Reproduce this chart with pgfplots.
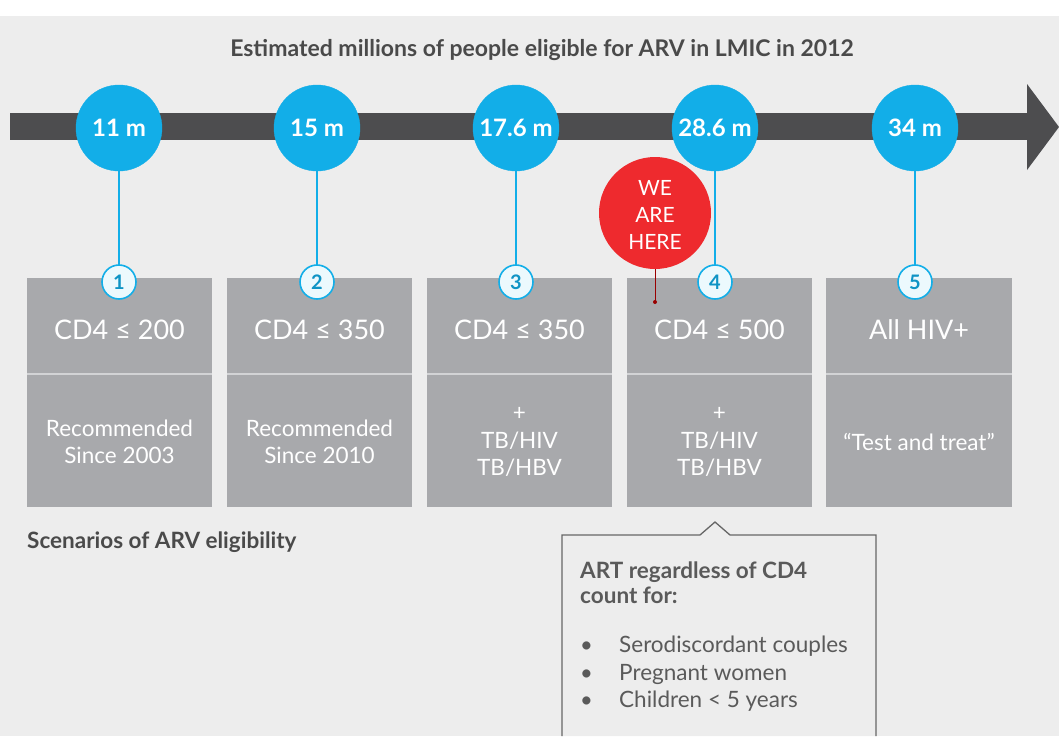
\documentclass[border=0pt]{standalone}
\usepackage{pgfplots}
\pgfplotsset{compat=1.18}
\usepackage{pgfplotstable}
\usepackage{fontspec}
\setmainfont{Lato}
\definecolor{bgc}{HTML}{EDEDED}
\definecolor{barc}{HTML}{4D4D4F}
\definecolor{cyanc}{HTML}{12AEE8}
\definecolor{boxc}{HTML}{A8A9AC}
\definecolor{divc}{HTML}{D2D3D5}
\definecolor{redc}{HTML}{EE2A2E}
\definecolor{txtc}{HTML}{4A4A4A}
\definecolor{calc}{HTML}{5A5A5A}

% x position (px), estimated millions eligible, scenario number
\pgfplotstableread[col sep=comma]{
x,value,n,yc,yn
119,11,1,128,282
317,15,2,128,282
516,17.6,3,128,282
715,28.6,4,128,282
915,34,5,128,282
}\eligible

\newcommand{\fs}[1]{\fontsize{#1}{#1}\selectfont}

\begin{document}
\begin{tikzpicture}
\begin{axis}[
    scale only axis, width=1059pt, height=736pt,
    xmin=0, xmax=1059, ymin=0, ymax=736, y dir=reverse,
    hide axis, clip=false,
    /pgf/number format/assume math mode=true,
]
% background
\fill[bgc] (axis cs:0,16) rectangle (axis cs:1059,736);
\node[font=\bfseries\fs{23}, text=txtc] at (axis cs:542,50) {Estimated millions of people eligible for ARV in LMIC in 2012};
% timeline arrow
\fill[barc] (axis cs:10,113) rectangle (axis cs:1030,140);
\fill[barc] (axis cs:1027,84) -- (axis cs:1059,127) -- (axis cs:1027,170) -- cycle;
% connectors
\draw[cyanc, line width=1.4pt] (axis cs:119,160) -- (axis cs:119,266);
\draw[cyanc, line width=1.4pt] (axis cs:317,160) -- (axis cs:317,266);
\draw[cyanc, line width=1.4pt] (axis cs:516,160) -- (axis cs:516,266);
\draw[cyanc, line width=1.4pt] (axis cs:715,160) -- (axis cs:715,266);
\draw[cyanc, line width=1.4pt] (axis cs:915,160) -- (axis cs:915,266);
% scenario boxes
\fill[boxc] (axis cs:27,278) rectangle (axis cs:212,507);
\fill[boxc] (axis cs:227,278) rectangle (axis cs:412,507);
\fill[boxc] (axis cs:427,278) rectangle (axis cs:612,507);
\fill[boxc] (axis cs:627,278) rectangle (axis cs:812,507);
\fill[boxc] (axis cs:826,278) rectangle (axis cs:1012,507);
\draw[divc, line width=1.2pt] (axis cs:27,374) -- (axis cs:212,374);
\draw[divc, line width=1.2pt] (axis cs:227,374) -- (axis cs:412,374);
\draw[divc, line width=1.2pt] (axis cs:427,374) -- (axis cs:612,374);
\draw[divc, line width=1.2pt] (axis cs:627,374) -- (axis cs:812,374);
\draw[divc, line width=1.2pt] (axis cs:826,374) -- (axis cs:1012,374);

% circles with values
\addplot[only marks, mark=*, mark size=43pt, color=cyanc,
    nodes near coords={\pgfmathprintnumber{\pgfplotspointmeta}~m},
    every node near coord/.style={anchor=center, text=white, font=\bfseries\fs{24}},
] table[x=x, y=yc, point meta=\thisrow{value}] {\eligible};
% numbered small circles
\addplot[only marks, mark=*, mark size=17pt, draw=cyanc, fill=white!92!cyanc, line width=1.6pt,
    nodes near coords={\pgfmathprintnumber{\pgfplotspointmeta}},
    every node near coord/.style={anchor=center, text=cyanc!85!black, font=\bfseries\fs{20}},
] table[x=x, y=yn, point meta=\thisrow{n}] {\eligible};

% we are here
\draw[red!60!black, line width=1pt] (axis cs:655,260) -- (axis cs:655,302);
\fill[red!60!black] (axis cs:655,302) circle[radius=2pt];
\fill[redc] (axis cs:655,213) circle[radius=56pt];
\node[text=white, font=\fs{21}, align=center, text depth=0pt] at (axis cs:655,215)
  {WE\\[6pt]ARE\\[6pt]HERE};

% box texts
\node[text=white, font=\fs{27}] at (axis cs:119.5,330) {CD4 ≤ 200};
\node[text=white, font=\fs{27}] at (axis cs:319.5,330) {CD4 ≤ 350};
\node[text=white, font=\fs{27}] at (axis cs:519.5,330) {CD4 ≤ 350};
\node[text=white, font=\fs{27}] at (axis cs:719.5,330) {CD4 ≤ 500};
\node[text=white, font=\fs{27}] at (axis cs:919,330) {All HIV+};
\node[text=white, font=\fs{22.5}, align=center] at (axis cs:119.5,442) {Recommended\\[4pt]Since 2003};
\node[text=white, font=\fs{22.5}, align=center] at (axis cs:319.5,442) {Recommended\\[4pt]Since 2010};
\node[text=white, font=\fs{22.5}, align=center] at (axis cs:519.5,442) {+\\[5pt]TB/HIV\\[5pt]TB/HBV};
\node[text=white, font=\fs{22.5}, align=center] at (axis cs:719.5,442) {+\\[5pt]TB/HIV\\[5pt]TB/HBV};
\node[text=white, font=\fs{22.5}] at (axis cs:919,442) {“Test and treat”};

\node[anchor=base west, inner sep=0pt, text=txtc, font=\bfseries\fs{22.5}] at (axis cs:27,548) {Scenarios of ARV eligibility};

% callout
\draw[gray!80!black, line width=1.3pt, fill=bgc] (axis cs:562,736) -- (axis cs:562,535) -- (axis cs:700,535)
  -- (axis cs:715,522) -- (axis cs:730,535) -- (axis cs:876,535) -- (axis cs:876,736);
\node[anchor=base west, inner sep=0pt, text=calc, font=\bfseries\fs{22.5}] at (axis cs:580,578) {ART regardless of CD4};
\node[anchor=base west, inner sep=0pt, text=calc, font=\bfseries\fs{22.5}] at (axis cs:580,603) {count for:};
\node[anchor=base west, inner sep=0pt, text=calc, font=\fs{22}] at (axis cs:580,652) {•};
\node[anchor=base west, inner sep=0pt, text=calc, font=\fs{22}] at (axis cs:580,680) {•};
\node[anchor=base west, inner sep=0pt, text=calc, font=\fs{22}] at (axis cs:580,707) {•};
\node[anchor=base west, inner sep=0pt, text=calc, font=\fs{22.5}] at (axis cs:619,652) {Serodiscordant couples};
\node[anchor=base west, inner sep=0pt, text=calc, font=\fs{22.5}] at (axis cs:619,680) {Pregnant women};
\node[anchor=base west, inner sep=0pt, text=calc, font=\fs{22.5}] at (axis cs:619,707) {Children < 5 years};
\end{axis}
\pgfresetboundingbox
\path (current axis.south west) rectangle (current axis.north east);
\end{tikzpicture}
\end{document}
